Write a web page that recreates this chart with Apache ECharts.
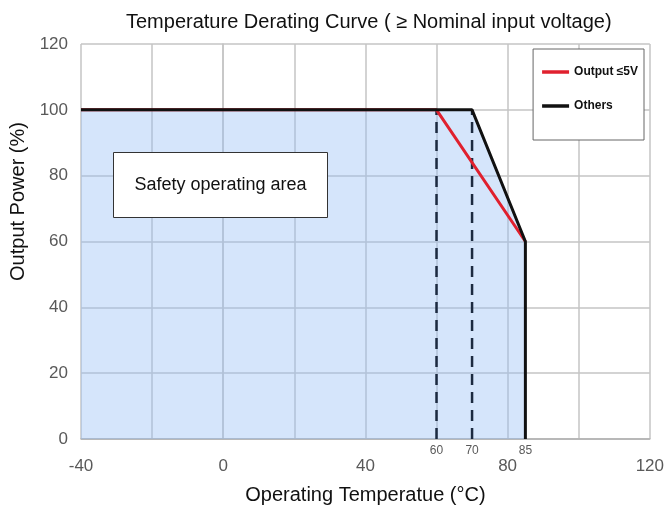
<!DOCTYPE html>
<html>
<head>
<meta charset="utf-8">
<script src="https://cdn.jsdelivr.net/npm/echarts@6/dist/echarts.min.js"></script>
<style>
  html, body { margin: 0; padding: 0; background: #fff; }
  #chart { width: 667px; height: 511px; }
</style>
</head>
<body>
<div id="chart"></div>
<script>
const others = [[-40, 100], [70, 100], [85, 60], [85, 0]]
const lowVolt = [[-40, 100], [60, 100], [85, 60]]
const dash60 = [[60, 0], [60, 100]]
const dash70 = [[70, 0], [70, 100]]
const markTemps = [60, 70, 85]

const font = 'Liberation Sans, Arial, sans-serif'
const chart = echarts.init(document.getElementById('chart'))

const dashStyle = { color: '#1c2a40', width: 2.5, type: [11, 7] }

chart.setOption({
  animation: false,
  backgroundColor: '#fff',
  title: {
    text: 'Temperature Derating Curve ( ≥ Nominal input voltage)',
    left: 121,
    top: 7,
    textStyle: { fontFamily: font, fontSize: 20, fontWeight: 'normal', color: '#111' },
  },
  grid: { left: 81, right: 15, top: 44, bottom: 72 },
  legend: {
    orient: 'vertical',
    right: 23,
    top: 49,
    width: 111,
    backgroundColor: '#fff',
    borderColor: '#666',
    borderWidth: 1,
    padding: [17, 6, 28, 9],
    itemGap: 22,
    itemWidth: 27,
    itemHeight: 3.5,
    icon: 'rect',
    data: ['Output ≤5V', 'Others'],
    textStyle: { fontFamily: font, fontSize: 12, fontWeight: 'bold', color: '#111' },
  },
  graphic: [
    {
      type: 'group',
      left: 113,
      top: 152,
      z: 100,
      children: [
        { type: 'rect', z: 100, shape: { x: 0, y: 0, width: 214, height: 65 }, style: { fill: '#fff', stroke: '#333', lineWidth: 1 } },
        {
          type: 'text',
          z: 101,
          x: 107,
          y: 33,
          style: { text: 'Safety operating area', fontFamily: font, fontSize: 18, fill: '#111', align: 'center', verticalAlign: 'middle' },
        },
      ],
    },
  ],
  xAxis: [
    {
      type: 'value',
      min: -40,
      max: 120,
      interval: 20,
      name: 'Operating Temperatue (°C)',
      nameLocation: 'middle',
      nameGap: 46,
      nameTextStyle: { fontFamily: font, fontSize: 20, color: '#111' },
      axisLine: { show: true, lineStyle: { color: '#b0b0b0', width: 1.5 } },
      axisTick: { show: false },
      axisLabel: {
        margin: 19,
        fontFamily: font,
        fontSize: 17,
        color: '#595959',
        formatter: (v) => (v % 40 === 0 ? String(v) : ''),
      },
      splitLine: { show: true, lineStyle: { color: '#c4c4c4', width: 1.5 } },
    },
    {
      type: 'value',
      position: 'bottom',
      min: -40,
      max: 120,
      axisLine: { show: false },
      axisTick: { show: false },
      splitLine: { show: false },
      axisLabel: {
        margin: 6,
        fontFamily: font,
        fontSize: 12,
        color: '#595959',
        customValues: markTemps,
      },
    },
  ],
  yAxis: {
    type: 'value',
    min: 0,
    max: 120,
    interval: 20,
    name: 'Output Power (%)',
    nameLocation: 'middle',
    nameGap: 52,
    nameTextStyle: { fontFamily: font, fontSize: 20, color: '#111', padding: [0, 0, 0, 80] },
    axisLine: { show: true, lineStyle: { color: '#c4c4c4', width: 1.5 } },
    axisTick: { show: false },
    axisLabel: { margin: 13, fontFamily: font, fontSize: 17, color: '#595959' },
    splitLine: { show: true, lineStyle: { color: '#c4c4c4', width: 1.5 } },
  },
  series: [
    {
      name: 'area',
      type: 'line',
      data: others,
      symbol: 'none',
      z: 1,
      silent: true,
      lineStyle: { width: 0 },
      areaStyle: { color: '#96bef5', opacity: 0.4 },
    },
    {
      name: 'd60',
      type: 'line',
      data: dash60,
      symbol: 'none',
      z: 2,
      lineStyle: dashStyle,
    },
    {
      name: 'd70',
      type: 'line',
      data: dash70,
      symbol: 'none',
      z: 2,
      lineStyle: dashStyle,
    },
    {
      name: 'Output ≤5V',
      type: 'line',
      data: lowVolt,
      symbol: 'none',
      z: 3,
      lineStyle: { color: '#e0202e', width: 3 },
      itemStyle: { color: '#e0202e' },
    },
    {
      name: 'Others',
      type: 'line',
      data: others,
      symbol: 'none',
      z: 4,
      lineStyle: { color: '#111', width: 3 },
      itemStyle: { color: '#111' },
    },
  ],
})
</script>
</body>
</html>
